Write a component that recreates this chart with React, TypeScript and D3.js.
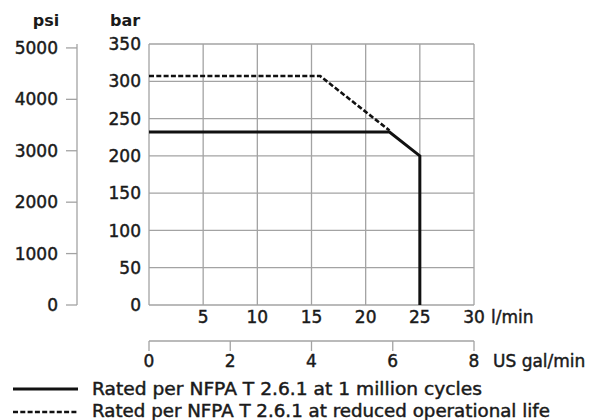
import React from 'react';
import * as d3 from 'd3';

// values
const flowTicks = [5, 10, 15, 20, 25, 30];
const barTicks = [0, 50, 100, 150, 200, 250, 300, 350];
const psiTicks = [0, 1000, 2000, 3000, 4000, 5000];
const galTicks = [0, 2, 4, 6, 8];

// [l/min, bar]
const millionCycles: [number, number][] = [[0, 232], [22.2, 232], [25, 200], [25, 0]];
const reducedLife: [number, number][] = [[0, 307], [15.8, 307], [22.2, 234]];

const legendLabels = [
  'Rated per NFPA T 2.6.1 at 1 million cycles',
  'Rated per NFPA T 2.6.1 at reduced operational life',
];

const BAR_TO_PSI = 14.5038;
const FONT = '"DejaVu Sans", sans-serif';

const App: React.FC = () => {
  const width = 604;
  const height = 420;
  const plot = { left: 149, right: 474, top: 44, bottom: 305 };

  const x = d3.scaleLinear().domain([0, 30]).range([plot.left, plot.right]);
  const y = d3.scaleLinear().domain([0, 350]).range([plot.bottom, plot.top]);
  const yPsi = d3.scaleLinear().domain([0, 350 * BAR_TO_PSI]).range([plot.bottom, plot.top]);
  const xGal = d3.scaleLinear().domain([0, 8]).range([plot.left, plot.right]);

  const line = d3.line<[number, number]>()
    .x(d => x(d[0]))
    .y(d => y(d[1]));

  const grid = '#a3a3a3';
  const psiAxisX = 77;
  const galAxisY = 341;
  // text looks heavier than a plain regular face in the reference
  const txt = { fontSize: 17, fill: '#1a1a1a', stroke: '#1a1a1a', strokeWidth: 0.45 };

  return (
    <svg width={width} height={height} style={{ position: 'absolute', left: 0, top: 0, background: '#fff' }}
      fontFamily={FONT}>
      {/* grid */}
      {flowTicks.map(t => (
        <line key={'vx' + t} x1={x(t)} x2={x(t)} y1={plot.top} y2={plot.bottom} stroke={grid} strokeWidth={1.3} />
      ))}
      {barTicks.map(t => (
        <line key={'hy' + t} x1={plot.left} x2={plot.right} y1={y(t)} y2={y(t)} stroke={grid} strokeWidth={1.3} />
      ))}
      <line x1={plot.left} x2={plot.left} y1={plot.top} y2={plot.bottom} stroke={grid} strokeWidth={1.3} />

      {/* bar axis labels */}
      <text x={125} y={26} textAnchor="middle" fontSize={16} fontWeight="bold" fill="#1a1a1a">bar</text>
      {barTicks.map(t => (
        <text key={'bl' + t} x={141} y={y(t)} dy="0.36em" textAnchor="end" {...txt}>{t}</text>
      ))}

      {/* psi axis */}
      <text x={46} y={26} textAnchor="middle" fontSize={16} fontWeight="bold" fill="#1a1a1a">psi</text>
      <line x1={psiAxisX} x2={psiAxisX} y1={yPsi(350 * BAR_TO_PSI)} y2={plot.bottom} stroke={grid} strokeWidth={1.3} />
      {psiTicks.map(t => (
        <g key={'pl' + t}>
          <line x1={66} x2={psiAxisX} y1={yPsi(t)} y2={yPsi(t)} stroke={grid} strokeWidth={1.3} />
          <text x={58} y={yPsi(t)} dy="0.36em" textAnchor="end" {...txt}>{t}</text>
        </g>
      ))}

      {/* flow axis labels */}
      {flowTicks.map(t => (
        <text key={'fl' + t} x={x(t)} y={323} textAnchor="middle" {...txt}>{t}</text>
      ))}
      <text x={491} y={323} {...txt}>l/min</text>

      {/* US gal axis */}
      <line x1={xGal(0)} x2={xGal(8)} y1={galAxisY} y2={galAxisY} stroke={grid} strokeWidth={1.3} />
      {galTicks.map(t => (
        <g key={'gl' + t}>
          <line x1={xGal(t)} x2={xGal(t)} y1={galAxisY} y2={galAxisY + 10} stroke={grid} strokeWidth={1.3} />
          <text x={xGal(t)} y={367} textAnchor="middle" {...txt}>{t}</text>
        </g>
      ))}
      <text x={493} y={367} {...txt}>US gal/min</text>

      {/* curves */}
      <path d={line(reducedLife) ?? ''} fill="none" stroke="#111" strokeWidth={2.6} strokeDasharray="5,2.3" />
      <path d={line(millionCycles) ?? ''} fill="none" stroke="#111" strokeWidth={3} strokeLinejoin="miter" />

      {/* legend */}
      <line x1={13} x2={78} y1={389} y2={389} stroke="#111" strokeWidth={3} />
      <text x={92} y={395} {...txt} textLength={390} lengthAdjust="spacingAndGlyphs">{legendLabels[0]}</text>
      <line x1={13} x2={78} y1={412} y2={412} stroke="#111" strokeWidth={2.6} strokeDasharray="5,2.3" />
      <text x={92} y={417} {...txt} textLength={458} lengthAdjust="spacingAndGlyphs">{legendLabels[1]}</text>
    </svg>
  );
};

export default App;
